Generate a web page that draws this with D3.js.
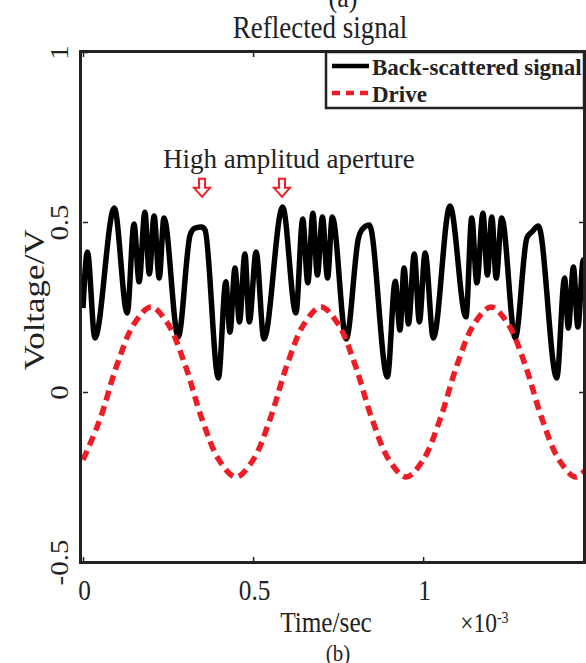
<!DOCTYPE html>
<html>
<head>
  <meta charset="utf-8" />
  <title>Reflected signal</title>
  <script src="https://cdnjs.cloudflare.com/ajax/libs/d3/7.8.5/d3.min.js"></script>
  <style>
    body { margin: 0; background: #fff; }
    svg { display: block; }
    text { font-family: "Liberation Serif", "Times New Roman", serif; fill: #222; }
  </style>
</head>
<body>
  <div id="chartArea"></div>
  <script>
    // time in units of 1e-3 s, voltage in V
    var backT = [0, 0.013, 0.035, 0.092, 0.130, 0.150, 0.165, 0.182, 0.195, 0.209, 0.224, 0.238,
      0.280, 0.315, 0.329, 0.349, 0.359, 0.398, 0.420, 0.432, 0.447, 0.460, 0.476, 0.489, 0.509,
      0.532, 0.587, 0.626, 0.646, 0.661, 0.676, 0.689, 0.704, 0.719, 0.733, 0.774, 0.810, 0.824,
      0.842, 0.895, 0.918, 0.932, 0.944, 0.957, 0.974, 0.989, 1.006, 1.030, 1.079, 1.126, 1.143,
      1.158, 1.176, 1.189, 1.202, 1.215, 1.231, 1.271, 1.305, 1.320, 1.339, 1.393, 1.416, 1.427,
      1.442, 1.455, 1.471, 1.480];
    var backV = [0.247, 0.412, 0.159, 0.541, 0.232, 0.494, 0.324, 0.529, 0.347, 0.518, 0.335, 0.512,
      0.162, 0.462, 0.482, 0.485, 0.476, 0.041, 0.324, 0.176, 0.365, 0.206, 0.406, 0.206, 0.412,
      0.156, 0.544, 0.232, 0.509, 0.321, 0.526, 0.344, 0.515, 0.335, 0.515, 0.156, 0.453, 0.482,
      0.491, 0.044, 0.326, 0.182, 0.365, 0.200, 0.406, 0.206, 0.409, 0.159, 0.547, 0.221, 0.512,
      0.321, 0.526, 0.344, 0.515, 0.335, 0.512, 0.159, 0.453, 0.471, 0.488, 0.041, 0.335, 0.188,
      0.368, 0.191, 0.388, 0.300];

    var driveT = [0, 0.05, 0.1, 0.15, 0.2, 0.25, 0.3, 0.35, 0.4, 0.45, 0.5, 0.55, 0.6, 0.65, 0.7,
      0.75, 0.8, 0.85, 0.9, 0.95, 1.0, 1.05, 1.1, 1.15, 1.2, 1.25, 1.3, 1.35, 1.4, 1.45, 1.5];
    var driveV = [-0.20, -0.08, 0.08, 0.20, 0.25, 0.20, 0.08, -0.08, -0.20, -0.25, -0.20, -0.08,
      0.08, 0.20, 0.25, 0.20, 0.08, -0.08, -0.20, -0.25, -0.20, -0.08, 0.08, 0.20, 0.25, 0.20,
      0.08, -0.08, -0.20, -0.25, -0.20];

    var xTicks = [0, 0.5, 1];
    var yTicks = [-0.5, 0, 0.5, 1];
    var arrowT = [0.35, 0.585];
    var seriesNames = ['Back-scattered signal', 'Drive'];

    var W = 586, H = 663;
    var margin = { top: 52, right: 1, bottom: 101, left: 83 };

    var xScale = d3.scaleLinear().domain([0, 1.476]).range([margin.left, W - margin.right]);
    var yScale = d3.scaleLinear().domain([-0.5, 1]).range([H - margin.bottom, margin.top]);
    var fmt = function (d) { return String(d); };   // plain hyphen for negatives

    var svg = d3.select('#chartArea').append('svg')
      .attr('width', W)
      .attr('height', H);

    svg.append('clipPath').attr('id', 'plotClip')
      .append('rect')
      .attr('x', margin.left - 2).attr('y', margin.top)
      .attr('width', W - margin.right - margin.left + 2)
      .attr('height', H - margin.bottom - margin.top);

    // axes (ticks pointing inward)
    var xAxis = svg.append('g')
      .attr('transform', 'translate(0,' + (H - margin.bottom) + ')')
      .call(d3.axisBottom(xScale).tickValues(xTicks).tickSize(-5).tickPadding(17).tickFormat(fmt));
    xAxis.select('.domain').remove();
    xAxis.selectAll('line').attr('stroke', '#222').attr('stroke-width', 1.5);
    xAxis.selectAll('text')
      .attr('font-size', 29)
      .attr('font-family', 'Liberation Serif')
      .attr('fill', '#222')
      .attr('transform', 'translate(1,0) scale(0.87,1)');

    var yAxis = svg.append('g')
      .attr('transform', 'translate(' + margin.left + ',0)')
      .call(d3.axisLeft(yScale).tickValues(yTicks).tickSize(-5).tickFormat(fmt));
    yAxis.select('.domain').remove();
    yAxis.selectAll('line').attr('stroke', '#222').attr('stroke-width', 1.5);
    yAxis.selectAll('text')
      .attr('x', 0).attr('dy', null)
      .attr('text-anchor', 'middle')
      .attr('font-size', 29)
      .attr('font-family', 'Liberation Serif')
      .attr('fill', '#222')
      .attr('transform', 'translate(-15,0) rotate(-90) scale(1,0.87)');

    var topAxis = svg.append('g')
      .attr('transform', 'translate(0,' + margin.top + ')')
      .call(d3.axisTop(xScale).tickValues(xTicks).tickSize(-5).tickFormat(''));
    topAxis.select('.domain').remove();
    topAxis.selectAll('line').attr('stroke', '#222').attr('stroke-width', 1.5);

    var rightAxis = svg.append('g')
      .attr('transform', 'translate(' + (W - margin.right - 1) + ',0)')
      .call(d3.axisRight(yScale).tickValues(yTicks).tickSize(-5).tickFormat(''));
    rightAxis.select('.domain').remove();
    rightAxis.selectAll('line').attr('stroke', '#222').attr('stroke-width', 1.5);

    // series
    var plot = svg.append('g').attr('clip-path', 'url(#plotClip)');

    var backLine = d3.line()
      .x(function (d, i) { return xScale(backT[i]); })
      .y(function (d) { return yScale(d); })
      .curve(d3.curveMonotoneX);

    plot.append('path')
      .datum(backV)
      .attr('d', backLine)
      .attr('fill', 'none')
      .attr('stroke', '#000')
      .attr('stroke-width', 5.5)
      .attr('stroke-linejoin', 'round');

    var driveLine = d3.line()
      .x(function (d, i) { return xScale(driveT[i]); })
      .y(function (d) { return yScale(d); })
      .curve(d3.curveCatmullRom);

    plot.append('path')
      .datum(driveV)
      .attr('d', driveLine)
      .attr('fill', 'none')
      .attr('stroke', '#ee1c25')
      .attr('stroke-width', 5.5)
      .attr('stroke-dasharray', '10,6');

    // frame
    svg.append('rect')
      .attr('x', margin.left - 2.5).attr('y', margin.top - 0.5)
      .attr('width', W - margin.right - margin.left + 2)
      .attr('height', H - margin.bottom - margin.top + 1)
      .attr('fill', 'none')
      .attr('stroke', '#222')
      .attr('stroke-width', 3);

    // annotation + arrows
    svg.append('text')
      .attr('x', xScale(0.235)).attr('y', yScale(0.659))
      .attr('font-size', 27)
      .text('High amplitud aperture');

    svg.selectAll('.arrow')
      .data(arrowT)
      .enter().append('path')
      .attr('class', 'arrow')
      .attr('transform', function (d) { return 'translate(' + xScale(d) + ',' + yScale(0.574) + ')'; })
      .attr('d', 'M-3,-18L3,-18L3,-9L8,-9L0,0L-8,-9L-3,-9Z')
      .attr('fill', '#fff')
      .attr('stroke', '#ee1c25')
      .attr('stroke-width', 2)
      .attr('stroke-linejoin', 'miter');

    // legend
    var legend = svg.append('g');
    legend.append('rect')
      .attr('x', 326).attr('y', 52)
      .attr('width', 258).attr('height', 56)
      .attr('fill', '#fff')
      .attr('stroke', '#222')
      .attr('stroke-width', 2.5);
    legend.append('line')
      .attr('x1', 332).attr('x2', 369).attr('y1', 66).attr('y2', 66)
      .attr('stroke', '#000').attr('stroke-width', 4.5);
    legend.append('line')
      .attr('x1', 332).attr('x2', 369).attr('y1', 93).attr('y2', 93)
      .attr('stroke', '#ee1c25').attr('stroke-width', 4.5)
      .attr('stroke-dasharray', '8,6');
    legend.selectAll('.lab')
      .data(seriesNames)
      .enter().append('text')
      .attr('class', 'lab')
      .attr('x', 372)
      .attr('y', function (d, i) { return 75 + i * 27; })
      .attr('font-size', 23)
      .attr('font-weight', 'bold')
      .attr('fill', '#111')
      .text(function (d) { return d; });

    // titles and labels
    function squeezed(x, y, size, str, rot) {
      var g = svg.append('g').attr('transform', 'translate(' + x + ',' + y + ')' + (rot ? ' rotate(-90)' : ''));
      return g.append('text')
        .attr('text-anchor', 'middle')
        .attr('font-size', size)
        .attr('transform', rot ? 'scale(1,0.87)' : 'scale(0.87,1)')
        .text(str);
    }

    squeezed(343, 7, 30, '(a)');
    squeezed(320, 38, 31, 'Reflected signal');
    squeezed(326, 632, 29, 'Time/sec');
    squeezed(338, 661, 24, '(b)');
    squeezed(44, 300, 35, 'Voltage/V', true);

    var mult = svg.append('text')
      .attr('x', 460).attr('y', 632)
      .attr('font-size', 27)
      .attr('transform', 'translate(60,0) scale(0.87,1)');
    mult.append('tspan').text('\u00d710');
    mult.append('tspan').attr('font-size', 16).attr('dy', -9).text('-3');
  </script>
</body>
</html>
